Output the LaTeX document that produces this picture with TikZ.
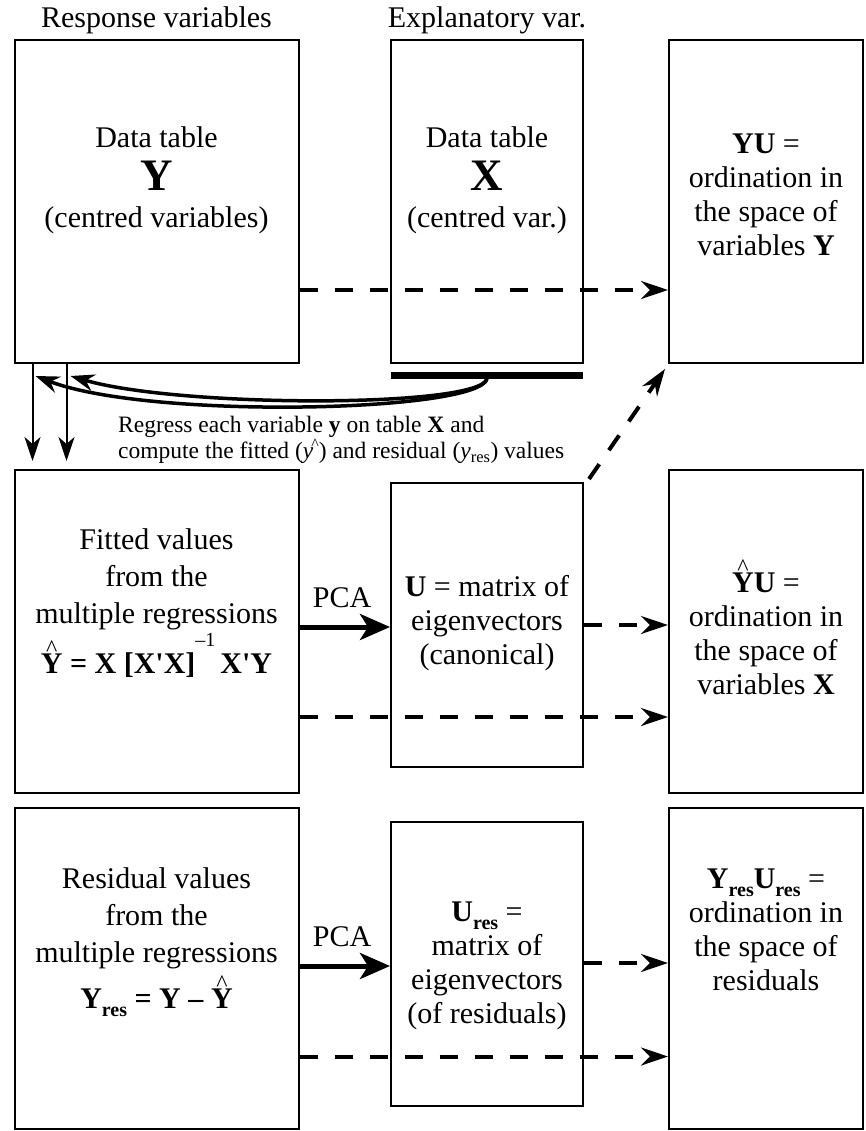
\documentclass[tikz,border=0pt]{standalone}
\usepackage{fontspec}
\setmainfont{Liberation Serif}
\usetikzlibrary{arrows.meta}

% bold letter with a detached hat above it
\newcommand{\hatbf}[1]{\leavevmode\vbox{\offinterlineskip\halign{\hfil##\hfil\cr
  {\fontsize{24}{24}\selectfont\textasciicircum}\cr\noalign{\kern-3pt}\textbf{#1}\cr}}}
% lowered bold "res" subscript
\newcommand{\rsub}{\raisebox{-8pt}{\fontsize{20}{20}\selectfont\bfseries res}}
% big bold table letter
\newcommand{\tabletter}[1]{{\fontsize{45}{45}\selectfont\bfseries #1}}

\begin{document}
\begin{tikzpicture}[
    x=1pt, y=-1pt,
    font=\fontsize{30}{34}\selectfont,
    tab/.style={draw, line width=2pt, inner sep=0pt},
    txt/.style={align=center, inner sep=0pt},
    wide/.style={txt, font=\fontsize{30}{37}\selectfont},
    note/.style={align=left, inner sep=0pt, anchor=west, font=\fontsize{23.5}{24}\selectfont},
    xbar/.style={fill=black, inner sep=0pt, minimum width=192pt, minimum height=7pt},
    arr/.style={-{Stealth[length=24pt, width=16pt, inset=7pt]}, line width=2pt},
    carr/.style={-{Stealth[length=24pt, width=17pt, inset=8pt]}, line width=3.5pt},
    pca/.style={-{Stealth[length=30pt, width=26pt, inset=8pt]}, line width=5pt},
    darr/.style={-{Stealth[length=27pt, width=18pt, inset=9pt]}, line width=4pt, dash pattern=on 18pt off 17pt}
]
\useasboundingbox (0,0) rectangle (865,1131);

%% ── Column heads ─────────────────────────────────────────────────────────────
\node[txt] (hdrY) at (156.5,20) {Response variables};
\node[txt] (hdrX) at (487,20)   {Explanatory var.};

%% ── Top row: data tables and ordination (y=40..363) ─────────────────────────
\node[tab, minimum width=284pt, minimum height=323pt] (tabY) at (156.5,201.5) {};
\node[tab, minimum width=192pt, minimum height=323pt] (tabX) at (487,201.5)   {};
\node[tab, minimum width=194pt, minimum height=323pt] (ordY) at (766,201.5)   {};
\node[txt] (tY) at (156.5,180) {Data table\\[9pt]\tabletter{Y}\\[3pt](centred variables)};
\node[txt] (tX) at (487,180)   {Data table\\[9pt]\tabletter{X}\\[3pt](centred var.)};
\node[txt] (tYU) at (766,195)  {\textbf{YU} =\\ordination in\\the space of\\variables \textbf{Y}};
\node[xbar] (bar) at (487,375) {};

%% ── Middle row: fitted values (y=470..793) ──────────────────────────────────
\node[tab, minimum width=284pt, minimum height=323pt] (fitY) at (156.5,631.5) {};
\node[tab, minimum width=192pt, minimum height=284pt] (eigU) at (487,625)     {};
\node[tab, minimum width=194pt, minimum height=323pt] (ordX) at (766,631.5)   {};
\node[wide] (tFit) at (156.5,579) {Fitted values\\from the\\multiple regressions};
\node[txt] (fFit) at (156.5,655) {\hatbf{Y} \textbf{= X [X\textquotesingle X]}\raisebox{27pt}{\fontsize{20}{20}\selectfont\textendash1}\,\textbf{X\textquotesingle Y}};
\node[txt] (tU)   at (487,623)   {\textbf{U} = matrix of\\eigenvectors\\(canonical)};
\node[txt] (tYhU) at (766,627)   {\hatbf{Y}\textbf{U} =\\ordination in\\the space of\\variables \textbf{X}};
\node[txt] (pca1) at (342,598)   {PCA};

%% ── Bottom row: residual values (y=808..1129) ───────────────────────────────
\node[tab, minimum width=284pt, minimum height=321pt] (resY) at (156.5,968.5) {};
\node[tab, minimum width=192pt, minimum height=284pt] (eigR) at (487,964)     {};
\node[tab, minimum width=194pt, minimum height=321pt] (ordR) at (766,968.5)   {};
\node[wide] (tRes) at (156.5,918) {Residual values\\from the\\multiple regressions};
\node[txt] (fRes) at (156.5,996) {\textbf{Y}\rsub\ \textbf{= Y \textendash\ }\hatbf{Y}};
\node[txt] (tUr)  at (487,966)   {\textbf{U}\rsub{} =\\matrix of\\eigenvectors\\(of residuals)};
\node[txt] (tYrU) at (766,930)   {\textbf{Y}\rsub\textbf{U}\rsub{} =\\ordination in\\the space of\\residuals};
\node[txt] (pca2) at (342,937)   {PCA};

%% ── Regression note ─────────────────────────────────────────────────────────
\node[note] (reg) at (118,440) {Regress each variable \textbf{y} on table \textbf{X} and\\
  compute the fitted (\textit{y}\kern-2pt\raisebox{9pt}{\fontsize{16}{16}\selectfont\textasciicircum}) and residual (\textit{y}\textsubscript{res}) values};

%% ── Regression arrows ───────────────────────────────────────────────────────
\draw[carr] (bar.south) .. controls (480,412) and (150,420) .. ([xshift=22pt,yshift=-12pt]tabY.south west);
\draw[carr] (bar.south) .. controls (480,408) and (180,408) .. ([xshift=57pt,yshift=-12pt]tabY.south west);
\draw[arr, shorten >=8pt] ([xshift=19pt]tabY.south west) -- ([xshift=19pt]fitY.north west);
\draw[arr, shorten >=8pt] ([xshift=53pt]tabY.south west) -- ([xshift=53pt]fitY.north west);

%% ── PCA arrows ──────────────────────────────────────────────────────────────
\draw[pca] ([yshift=4.5pt]fitY.east) -- ([yshift=-2pt]eigU.west);
\draw[pca] ([yshift=2.5pt]resY.east) -- ([yshift=-2pt]eigR.west);

%% ── Ordination arrows (dashed) ──────────────────────────────────────────────
\draw[darr] ([yshift=-88.5pt]tabY.east) -- ([yshift=-88.5pt]ordY.west);
\draw[darr] ([xshift=5pt,yshift=3pt]eigU.north east) -- ([xshift=-3pt,yshift=-5pt]ordY.south west);
\draw[darr] (eigU.east) -- ([yshift=6.5pt]ordX.west);
\draw[darr] ([yshift=-85.5pt]fitY.east) -- ([yshift=-85.5pt]ordX.west);
\draw[darr] ([yshift=1pt]eigR.east) -- ([yshift=5.5pt]ordR.west);
\draw[darr] ([yshift=-88pt]resY.east) -- ([yshift=-88pt]ordR.west);

\end{tikzpicture}
\end{document}
